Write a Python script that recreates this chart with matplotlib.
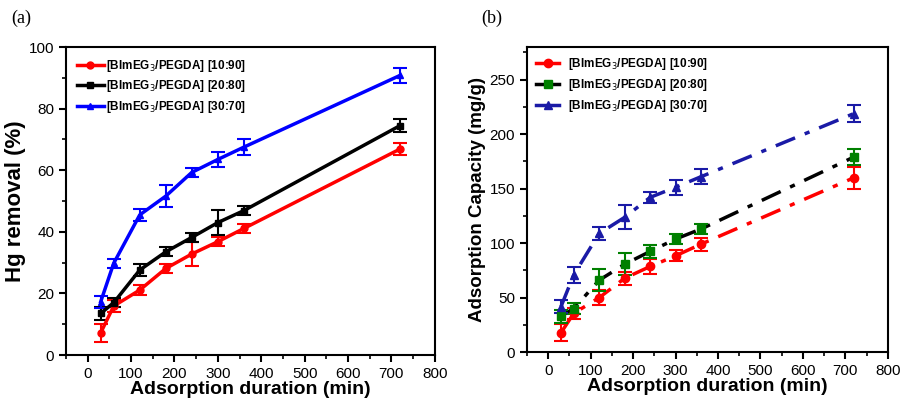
import matplotlib
matplotlib.use("Agg")
import matplotlib.pyplot as plt
from matplotlib.ticker import MultipleLocator

plt.rcParams['font.family'] = ['Liberation Sans', 'DejaVu Sans']

tiempo = [30, 60, 120, 180, 240, 300, 360, 720]
rotulos = ['[BImEG$_3$/PEGDA] [10:90]', '[BImEG$_3$/PEGDA] [20:80]', '[BImEG$_3$/PEGDA] [30:70]']

# (a) Hg removal (%)
rem_10 = [7.2, 15.9, 21.1, 28.1, 32.8, 36.8, 41.1, 66.9]
rem_10_err = [3, 2, 1.5, 1.5, 4, 1.5, 1.5, 2]
rem_20 = [13.5, 17.0, 27.6, 33.5, 38.2, 43.0, 46.9, 74.5]
rem_20_err = [2, 1.5, 2, 1.5, 1.5, 4, 1.5, 2]
rem_30 = [17.3, 29.8, 45.5, 51.6, 59.3, 63.5, 67.5, 90.8]
rem_30_err = [2, 1.5, 2, 3.5, 1.5, 2.5, 2.5, 2.5]

# (b) adsorption capacity (mg/g)
cap_10 = [17.8, 35.6, 50.0, 67.8, 78.6, 88.4, 99.1, 160.0]
cap_10_err = [8, 5, 7, 6, 7, 5, 6, 10]
cap_20 = [33.0, 40.0, 66.0, 80.7, 92.4, 103.8, 113.0, 179.0]
cap_20_err = [6, 5, 10, 10, 6, 5, 5, 7]
cap_30 = [41.7, 70.9, 108.9, 123.7, 142.0, 151.3, 161.0, 218.9]
cap_30_err = [6, 7, 6, 11, 5, 7, 7, 8]

fig = plt.figure(figsize=(9.04, 4.09), dpi=100)
ax1 = fig.add_axes([0.073, 0.132, 0.408, 0.753])
ax2 = fig.add_axes([0.583, 0.139, 0.399, 0.746])

# panel a
cores_a = ['#ff0000', '#000000', '#0000ff']
marcas = ['o', 's', '^']
for y, e, c, m, r in zip([rem_10, rem_20, rem_30], [rem_10_err, rem_20_err, rem_30_err], cores_a, marcas, rotulos):
    ax1.errorbar(tiempo, y, yerr=e, color=c, marker=m, ms=5, lw=2.5, capsize=5,
                 elinewidth=1.5, capthick=1.5)
    ax1.plot([], [], color=c, marker=m, ms=5, lw=2.5, label=r)

ax1.set_xlim(-50, 800)
ax1.set_ylim(0, 100)
ax1.xaxis.set_major_locator(MultipleLocator(100))
ax1.xaxis.set_minor_locator(MultipleLocator(50))
ax1.yaxis.set_major_locator(MultipleLocator(20))
ax1.yaxis.set_minor_locator(MultipleLocator(10))
ax1.set_xlabel('Adsorption duration (min)', fontsize=14, fontweight='bold', labelpad=0)
ax1.set_ylabel('Hg removal (%)', fontsize=16, fontweight='bold', labelpad=2)
ax1.legend(loc='upper left', frameon=False, prop={'size': 8.5, 'weight': 'bold'},
           handlelength=2.3, borderaxespad=0.5, labelspacing=0.4, handletextpad=0.2)

# panel b
linhas_b = ['#ff0000', '#000000', '#1a1aa6']
marc_b = ['#ff0000', '#008000', '#1a1aa6']
for y, e, lc, mc, m, r in zip([cap_10, cap_20, cap_30], [cap_10_err, cap_20_err, cap_30_err],
                               linhas_b, marc_b, marcas, rotulos):
    ax2.plot(tiempo, y, color=lc, ls=(0, (6, 3, 1.5, 3)), lw=2.5, zorder=2)
    ax2.errorbar(tiempo, y, yerr=e, color=mc, marker=m, ms=6, ls='none', capsize=5,
                 elinewidth=1.5, capthick=1.5, zorder=3)
    ax2.plot([], [], color=lc, lw=2.5, marker=m, mfc=mc, mec=mc, ms=6, label=r)

ax2.set_xlim(-50, 800)
ax2.set_ylim(0, 280)
ax2.xaxis.set_major_locator(MultipleLocator(100))
ax2.xaxis.set_minor_locator(MultipleLocator(50))
ax2.yaxis.set_major_locator(MultipleLocator(50))
ax2.yaxis.set_minor_locator(MultipleLocator(25))
ax2.set_xlabel('Adsorption duration (min)', fontsize=14, fontweight='bold', labelpad=0)
ax2.set_ylabel('Adsorption Capacity (mg/g)', fontsize=13.5, fontweight='bold', labelpad=3)
ax2.legend(loc='upper left', frameon=False, prop={'size': 8.5, 'weight': 'bold'},
           handlelength=1.95, borderaxespad=0.4, labelspacing=0.4, handletextpad=0.75)

for ax in (ax1, ax2):
    for s in ax.spines.values():
        s.set_linewidth(1.5)
    ax.tick_params(which='major', direction='out', length=5, width=1.5, labelsize=11)
    ax.tick_params(which='minor', direction='out', length=3, width=1.2)

fig.text(0.012, 0.955, '(a)', fontsize=13, family=['Liberation Serif', 'DejaVu Serif'], va='center')
fig.text(0.532, 0.955, '(b)', fontsize=13, family=['Liberation Serif', 'DejaVu Serif'], va='center')

fig.savefig('out.png', dpi=100)
